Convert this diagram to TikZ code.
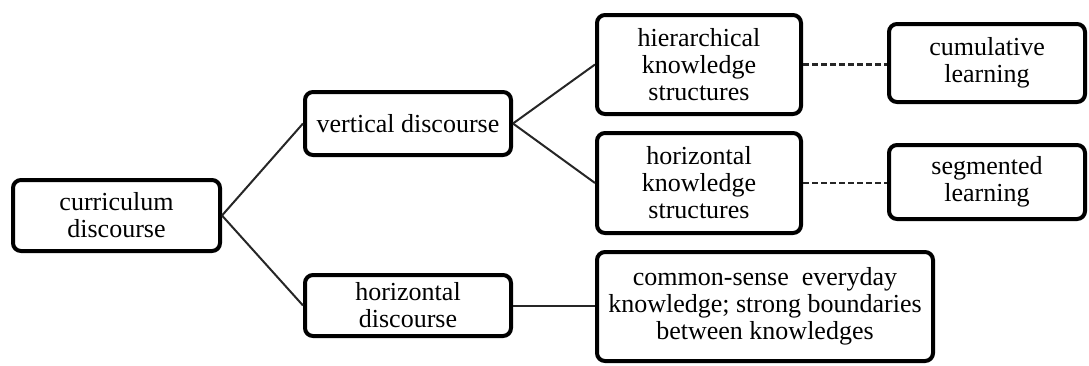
\documentclass[tikz,border=0pt]{standalone}
\usepackage{fontspec}
\setmainfont{Liberation Serif}
\begin{document}
\begin{tikzpicture}[x=1pt,y=-1pt,
  box/.style={draw=black, line width=4pt, rounded corners=8pt, fill=white,
    align=center, inner sep=0pt, font=\fontsize{26}{27}\selectfont},
  link/.style={draw=black!85, line width=2pt},
  dashlink/.style={draw=black!85, line width=2.6pt, dash pattern=on 6pt off 3pt}]
\useasboundingbox (0,0) rectangle (1089,365);

% boxes
\node[box, minimum width=207pt, minimum height=71pt] (cur) at (116.5,215.5) {curriculum\\discourse};
\node[box, minimum width=206pt, minimum height=63pt] (vd) at (408,123.5) {vertical discourse};
\node[box, minimum width=206pt, minimum height=61pt] (hd) at (408,305.5) {horizontal\\discourse};
\node[box, minimum width=204pt, minimum height=99pt] (hks) at (699,64.5) {hierarchical\\knowledge\\structures};
\node[box, minimum width=204pt, minimum height=100pt] (hzks) at (699,183) {horizontal\\knowledge\\structures};
\node[box, minimum width=196pt, minimum height=78pt] (cum) at (987,63) {cumulative\\learning};
\node[box, minimum width=196pt, minimum height=74pt] (seg) at (987,182) {segmented\\learning};
\node[box, minimum width=336pt, minimum height=109pt] (cs) at (765,306.5) {common-sense\ \ everyday\\knowledge; strong boundaries\\between knowledges};

% connectors
\draw[link] (cur.east) -- (vd.west);
\draw[link] (cur.east) -- (hd.west);
\draw[link] (vd.east) -- (hks.west);
\draw[link] (vd.east) -- (hzks.west);
\draw[link] (hd.east) -- (cs.west |- hd.east);
\draw[dashlink] (hks.east) -- (cum.west |- hks.east);
\draw[dashlink] (hzks.east) -- (seg.west |- hzks.east);
\end{tikzpicture}
\end{document}
